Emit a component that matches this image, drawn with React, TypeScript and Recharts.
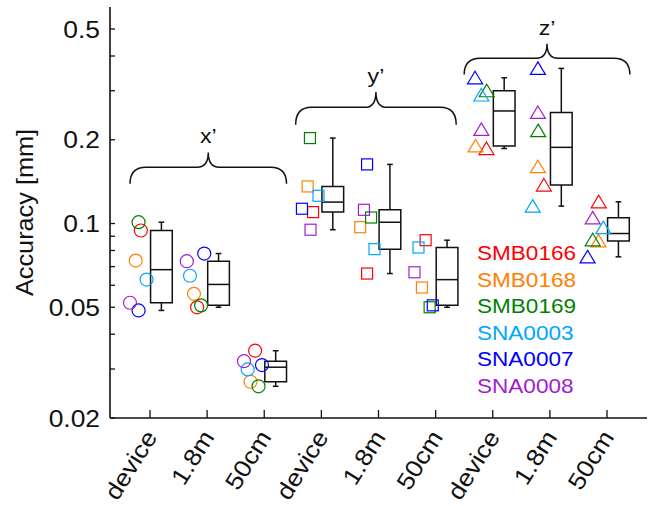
import React from "react";
import { ScatterChart, Scatter, XAxis, YAxis, ReferenceArea, ReferenceLine } from "recharts";

// categories along the x axis (three distances for each of x', y', z')
const categories = ["device", "1.8m", "50cm", "device", "1.8m", "50cm", "device", "1.8m", "50cm"];
const positions = [1, 2, 3, 4, 5, 6, 7, 8, 9];
const markerKinds = ["circle", "circle", "circle", "square", "square", "square", "triangle", "triangle", "triangle"];

const yTicks = [0.02, 0.03, 0.04, 0.05, 0.06, 0.07, 0.08, 0.09, 0.1, 0.2, 0.3, 0.4, 0.5];
const yTickLabels = [0.02, 0.05, 0.1, 0.2, 0.5];

const sensorNames = ["SMB0166", "SMB0168", "SMB0169", "SNA0003", "SNA0007", "SNA0008"];
const sensorColors = ["#ff0000", "#ff8000", "#008000", "#00a6ff", "#0000ff", "#a020d0"];

// accuracy [mm] per sensor, one value per category
const smb0166 = [0.0944, 0.05, 0.0349, 0.1099, 0.0661, 0.0871, 0.186, 0.1375, 0.1197];
const smb0168 = [0.0736, 0.0559, 0.027, 0.1359, 0.097, 0.0589, 0.19, 0.16, 0.0866];
const smb0169 = [0.1011, 0.0508, 0.026, 0.2028, 0.1051, 0.05, 0.3, 0.2156, 0.0874];
const sna0003 = [0.0629, 0.0649, 0.0299, 0.1258, 0.0809, 0.082, 0.2896, 0.1155, 0.0967];
const sna0007 = [0.0487, 0.078, 0.031, 0.113, 0.1631, 0.0508, 0.334, 0.361, 0.0759];
const sna0008 = [0.0519, 0.0732, 0.032, 0.095, 0.112, 0.0668, 0.218, 0.2507, 0.1048];

// horizontal jitter of each marker, in category units
const jitter0166 = [-0.16, -0.175, -0.16, -0.145, -0.2, -0.175, -0.11, -0.105, -0.145];
const jitter0168 = [-0.25, -0.23, -0.24, -0.24, -0.32, -0.24, -0.3, -0.21, -0.15];
const jitter0169 = [-0.2, -0.105, -0.1, -0.2, -0.13, -0.105, -0.105, -0.205, -0.25];
const jitter0003 = [-0.06, -0.3, -0.29, -0.05, -0.07, -0.3, -0.2, -0.3, -0.065];
const jitter0007 = [-0.2, -0.05, -0.04, -0.34, -0.2, -0.05, -0.31, -0.21, -0.34];
const jitter0008 = [-0.35, -0.355, -0.355, -0.19, -0.255, -0.37, -0.2, -0.21, -0.25];

const sensorValues = [smb0166, smb0168, smb0169, sna0003, sna0007, sna0008];
const sensorJitter = [jitter0166, jitter0168, jitter0169, jitter0003, jitter0007, jitter0008];

// curly braces over each axis group
const braceLabels = ["x\u2019", "y\u2019", "z\u2019"];
const braceFrom = [0.65, 3.55, 6.5];
const braceTo = [3.39, 6.36, 9.4];
const braceBase = [0.139, 0.2265, 0.343];
const braceTip = [0.18, 0.297, 0.443];

const FONT = "'Liberation Sans', Arial, sans-serif";
const INK = "#111";
const BOX_OFFSET = 0.2;
const BOX_HALF = 0.19;
const CAP_HALF = 0.05;

function median(v: number[]) {
    const h = Math.floor(v.length / 2);
    return v.length % 2 ? v[h] : (v[h - 1] + v[h]) / 2;
}

function boxStats(g: number) {
    const v = sensorValues.map((s) => s[g]).sort((a, b) => a - b);
    const h = Math.floor(v.length / 2);
    return {
        min: v[0],
        q1: median(v.slice(0, h)),
        med: median(v),
        q3: median(v.slice(v.length - h)),
        max: v[v.length - 1],
    };
}

const StretchText = (props: any) => {
    const { x, y, angle = 0, anchor = "middle", size, fill = INK, dy, children } = props;
    return (
        <g transform={`translate(${x},${y}) rotate(${angle}) scale(1.1,1)`}>
            <text x={0} y={0} dy={dy} textAnchor={anchor} fontSize={size} fill={fill} fontFamily={FONT}>
                {children}
            </text>
        </g>
    );
};

const XTick = (props: any) => {
    const { x, y, payload } = props;
    const label = categories[positions.indexOf(payload.value)];
    return <StretchText x={x + 8} y={y} angle={-58} anchor="end" size={24}>{label}</StretchText>;
};

const YTick = (props: any) => {
    const { x, y, payload } = props;
    if (!yTickLabels.includes(payload.value)) return <g />;
    return <StretchText x={x} y={y} anchor="end" size={24} dy="0.36em">{String(payload.value)}</StretchText>;
};

const Marker = (props: any) => {
    const { cx, cy, payload, color } = props;
    if (cx == null || cy == null) return <g />;
    const common = { fill: "none", stroke: color, strokeWidth: 1.2 };
    if (payload.kind === "circle") return <circle cx={cx} cy={cy} r={6.5} {...common} />;
    if (payload.kind === "square") return <rect x={cx - 5.5} y={cy - 5.5} width={11} height={11} {...common} />;
    return <path d={`M${cx},${cy - 6.5} L${cx + 7.5},${cy + 6} L${cx - 7.5},${cy + 6} Z`} {...common} />;
};

const Brace = (props: any) => {
    const { x, y, width, height, label } = props;
    const yb = y + height;
    const yh = y + height * 0.47;
    const cx = x + width / 2;
    const r = 16;
    const r2 = 11;
    const d =
        `M${x},${yb} Q${x},${yh} ${x + r},${yh} L${cx - r2},${yh} Q${cx},${yh} ${cx},${y} ` +
        `Q${cx},${yh} ${cx + r2},${yh} L${x + width - r},${yh} Q${x + width},${yh} ${x + width},${yb}`;
    return (
        <g>
            <path d={d} fill="none" stroke={INK} strokeWidth={1.5} />
            <StretchText x={cx} y={y - 9} size={21}>{label}</StretchText>
        </g>
    );
};

export default function App() {
    const series = sensorNames.map((name, s) => ({
        name,
        color: sensorColors[s],
        data: positions.map((p, g) => ({
            x: p + sensorJitter[s][g],
            y: sensorValues[s][g],
            kind: markerKinds[g],
        })),
    }));
    const boxes = positions.map((p, g) => ({ c: p + BOX_OFFSET, ...boxStats(g) }));

    const axisLine = { stroke: INK, strokeWidth: 1.6 };
    const tickLine = { stroke: INK, strokeWidth: 1.3 };

    return (
        <div style={{ position: "absolute", left: 0, top: 0, width: 657, height: 506, background: "#fff" }}>
            <ScatterChart width={657} height={506} margin={{ top: 7, right: 10, bottom: 0, left: 0 }}>
                <XAxis
                    type="number"
                    dataKey="x"
                    domain={[0.3, 9.7]}
                    ticks={positions}
                    interval={0}
                    allowDataOverflow
                    height={88}
                    tickSize={-8}
                    tickMargin={27}
                    axisLine={axisLine}
                    tickLine={tickLine}
                    tick={<XTick />}
                />
                <XAxis
                    xAxisId="top"
                    orientation="top"
                    type="number"
                    domain={[0.3, 9.7]}
                    ticks={positions}
                    interval={0}
                    allowDataOverflow
                    height={0}
                    tickSize={-8}
                    axisLine={axisLine}
                    tickLine={tickLine}
                    tick={false}
                />
                <YAxis
                    type="number"
                    dataKey="y"
                    scale="log"
                    domain={[0.02, 0.6]}
                    ticks={yTicks}
                    interval={0}
                    allowDataOverflow
                    width={110}
                    tickSize={-5}
                    tickMargin={15}
                    axisLine={axisLine}
                    tickLine={tickLine}
                    tick={<YTick />}
                    label={{
                        content: (p: any) => {
                            const vb = p.viewBox;
                            return (
                                <StretchText x={vb.x + 33} y={vb.y + vb.height / 2} angle={-90} size={23}>
                                    Accuracy [mm]
                                </StretchText>
                            );
                        },
                    }}
                />
                <YAxis
                    yAxisId="right"
                    orientation="right"
                    type="number"
                    scale="log"
                    domain={[0.02, 0.6]}
                    ticks={yTicks}
                    interval={0}
                    allowDataOverflow
                    width={0}
                    tickSize={-5}
                    axisLine={axisLine}
                    tickLine={tickLine}
                    tick={false}
                />

                {series.map((s) => (
                    <Scatter
                        key={s.name}
                        name={s.name}
                        data={s.data}
                        fill={s.color}
                        isAnimationActive={false}
                        shape={(p: any) => <Marker {...p} color={s.color} />}
                    />
                ))}

                {boxes.map((b, i) => (
                    <ReferenceArea
                        key={`box-${i}`}
                        x1={b.c - BOX_HALF}
                        x2={b.c + BOX_HALF}
                        y1={b.q1}
                        y2={b.q3}
                        fill="none"
                        fillOpacity={0}
                        stroke={INK}
                        strokeWidth={1.5}
                    />
                ))}
                {boxes.map((b, i) => (
                    <ReferenceLine key={`med-${i}`} segment={[{ x: b.c - BOX_HALF, y: b.med }, { x: b.c + BOX_HALF, y: b.med }]} stroke={INK} strokeWidth={1.5} />
                ))}
                {boxes.map((b, i) => (
                    <ReferenceLine key={`wu-${i}`} segment={[{ x: b.c, y: b.q3 }, { x: b.c, y: b.max }]} stroke={INK} strokeWidth={1.5} />
                ))}
                {boxes.map((b, i) => (
                    <ReferenceLine key={`wl-${i}`} segment={[{ x: b.c, y: b.min }, { x: b.c, y: b.q1 }]} stroke={INK} strokeWidth={1.5} />
                ))}
                {boxes.map((b, i) => (
                    <ReferenceLine key={`cu-${i}`} segment={[{ x: b.c - CAP_HALF, y: b.max }, { x: b.c + CAP_HALF, y: b.max }]} stroke={INK} strokeWidth={1.5} />
                ))}
                {boxes.map((b, i) => (
                    <ReferenceLine key={`cl-${i}`} segment={[{ x: b.c - CAP_HALF, y: b.min }, { x: b.c + CAP_HALF, y: b.min }]} stroke={INK} strokeWidth={1.5} />
                ))}

                {braceLabels.map((label, i) => (
                    <ReferenceArea
                        key={`brace-${i}`}
                        x1={braceFrom[i]}
                        x2={braceTo[i]}
                        y1={braceBase[i]}
                        y2={braceTip[i]}
                        shape={(p: any) => <Brace {...p} label={label} />}
                    />
                ))}
            </ScatterChart>
            <div
                style={{
                    position: "absolute",
                    left: 477,
                    top: 240,
                    fontFamily: FONT,
                    fontSize: 20.5,
                    lineHeight: "26.6px",
                    transform: "scaleX(1.1)",
                    transformOrigin: "left top",
                }}
            >
                {sensorNames.map((n, i) => (
                    <div key={n} style={{ color: sensorColors[i] }}>
                        {n}
                    </div>
                ))}
            </div>
        </div>
    );
}
